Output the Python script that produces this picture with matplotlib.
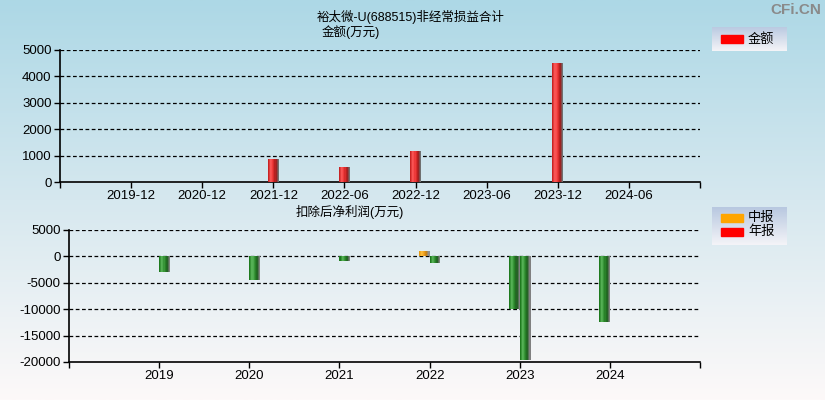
import numpy as np
import matplotlib
matplotlib.use('Agg')
import matplotlib.pyplot as plt
from matplotlib.colors import LinearSegmentedColormap
from matplotlib.patches import Rectangle

plt.rcParams['font.family'] = ['Liberation Sans', 'Noto Sans CJK SC', 'DejaVu Sans']
plt.rcParams['axes.unicode_minus'] = False

# 非经常损益合计 (万元)
top_labels = ['2019-12', '2020-12', '2021-12', '2022-06', '2022-12', '2023-06', '2023-12', '2024-06']
top_vals = [np.nan, np.nan, 870, 580, 1190, np.nan, 4520, np.nan]

# 扣除后净利润 (万元)
years = ['2019', '2020', '2021', '2022', '2023', '2024']
mid_vals = [np.nan, np.nan, np.nan, 950, -10050, -12350]     # 中报
annual_vals = [-2950, -4550, -950, -1300, -19650, np.nan]    # 年报

red_cm = LinearSegmentedColormap.from_list('r', ['#c82424', '#ff5a5a', '#e83030', '#a01818', '#707070'])
green_cm = LinearSegmentedColormap.from_list('g', ['#1e7a1e', '#5cb85c', '#2e8b2e', '#1a5e1a', '#808080'])
orange_cm = LinearSegmentedColormap.from_list('o', ['#e89a10', '#ffc040', '#f0a020', '#c88010', '#909090'])


def cyl_bar(ax, x0, w, v, cmap, n=10):
    # bar made of thin slices so it looks like a cylinder
    sw = w / n
    xs = x0 + sw * np.arange(n)
    cols = [cmap(i / (n - 1)) for i in range(n)]
    ax.bar(xs, [v] * n, width=sw * 1.02, align='edge', color=cols, lw=0, zorder=3)


fig = plt.figure(figsize=(8.25, 4), dpi=100)

# background gradient
bg = fig.add_axes([0, 0, 1, 1], zorder=-10)
bgcm = LinearSegmentedColormap.from_list('bg', ['#fdf9f9', '#d6e8ef', '#add8e6'])
bg.imshow(np.linspace(0, 1, 256).reshape(-1, 1), cmap=bgcm, aspect='auto',
          extent=(0, 1, 0, 1), origin='lower')
bg.set_axis_off()

# ---------- top chart ----------
ax1 = fig.add_axes([60 / 825, 1 - 182 / 400, 640 / 825, 132 / 400])
ax1.patch.set_alpha(0)
xt = np.arange(1, len(top_labels) + 1)
bw = 0.155
for x, v in zip(xt, top_vals):
    if not np.isnan(v):
        cyl_bar(ax1, x - bw / 2, bw, v, red_cm)
ax1.set_xlim(0, len(top_labels) + 1)
ax1.set_ylim(0, 5000)
ax1.set_yticks(np.arange(0, 5001, 1000))
ax1.set_xticks(np.arange(0, len(top_labels) + 2))
ax1.set_xticklabels([''] + top_labels + [''])
for y in np.arange(1000, 5001, 1000):
    ax1.axhline(y, color='black', lw=0.9, ls=(0, (3, 2)), zorder=1)

# ---------- bottom chart ----------
ax2 = fig.add_axes([69 / 825, 1 - 362 / 400, 631 / 825, 132 / 400])
ax2.patch.set_alpha(0)
xb = np.arange(1, len(years) + 1)
bw2 = 0.12
for x, m, a in zip(xb, mid_vals, annual_vals):
    if not np.isnan(m):
        cyl_bar(ax2, x - bw2, bw2, m, orange_cm if m > 0 else green_cm)
    if not np.isnan(a):
        cyl_bar(ax2, x, bw2, a, red_cm if a > 0 else green_cm)
ax2.set_xlim(0, len(years) + 1)
ax2.set_ylim(-20000, 5000)
ax2.set_yticks(np.arange(-20000, 5001, 5000))
ax2.set_xticks(np.arange(0, len(years) + 2))
ax2.set_xticklabels([''] + years + [''])
for y in np.arange(-15000, 5001, 5000):
    ax2.axhline(y, color='black', lw=0.9, ls=(0, (3, 2)), zorder=1)

for ax in (ax1, ax2):
    for s in ('top', 'right'):
        ax.spines[s].set_visible(False)
    ax.spines['left'].set_linewidth(1.2)
    ax.spines['bottom'].set_linewidth(1.2)
    ax.tick_params(axis='both', direction='out', length=4, width=1, labelsize=9.5, pad=2)

# texts
fig.text(411 / 825, 1 - 17 / 400, '裕太微-U(688515)非经常损益合计', ha='center', va='center', fontsize=9)
fig.text(322 / 825, 1 - 32 / 400, '金额(万元)', ha='left', va='center', fontsize=9)
fig.text(350 / 825, 1 - 212 / 400, '扣除后净利润(万元)', ha='center', va='center', fontsize=9)
fig.text(821 / 825, 1 - 10 / 400, 'CFi.CN', ha='right', va='center', fontsize=11,
         color='#8a8a8a', fontweight='bold')


def legend_box(y_top, y_bot, items):
    lax = fig.add_axes([712 / 825, 1 - y_bot / 400, 75 / 825, (y_bot - y_top) / 400], zorder=5)
    lcm = LinearSegmentedColormap.from_list('lg', ['#f4f4f8', '#b8c8e0'])
    lax.imshow(np.linspace(0, 1, 64).reshape(-1, 1), cmap=lcm, aspect='auto',
               extent=(0, 75, 0, y_bot - y_top), origin='lower')
    lax.set_xlim(0, 75)
    lax.set_ylim(0, y_bot - y_top)
    lax.set_axis_off()
    h = y_bot - y_top
    for i, (lab, col) in enumerate(items):
        yc = h - (12 if len(items) == 1 else 11 + i * 14)
        lax.add_patch(Rectangle((9, yc - 4), 22, 8, color=col))
        lax.text(36, yc, lab, va='center', ha='left', fontsize=9.5)


legend_box(27, 51, [('金额', '#ff0000')])
legend_box(207, 245, [('中报', '#ffa500'), ('年报', '#ff0000')])

fig.savefig('out.png', dpi=100)
